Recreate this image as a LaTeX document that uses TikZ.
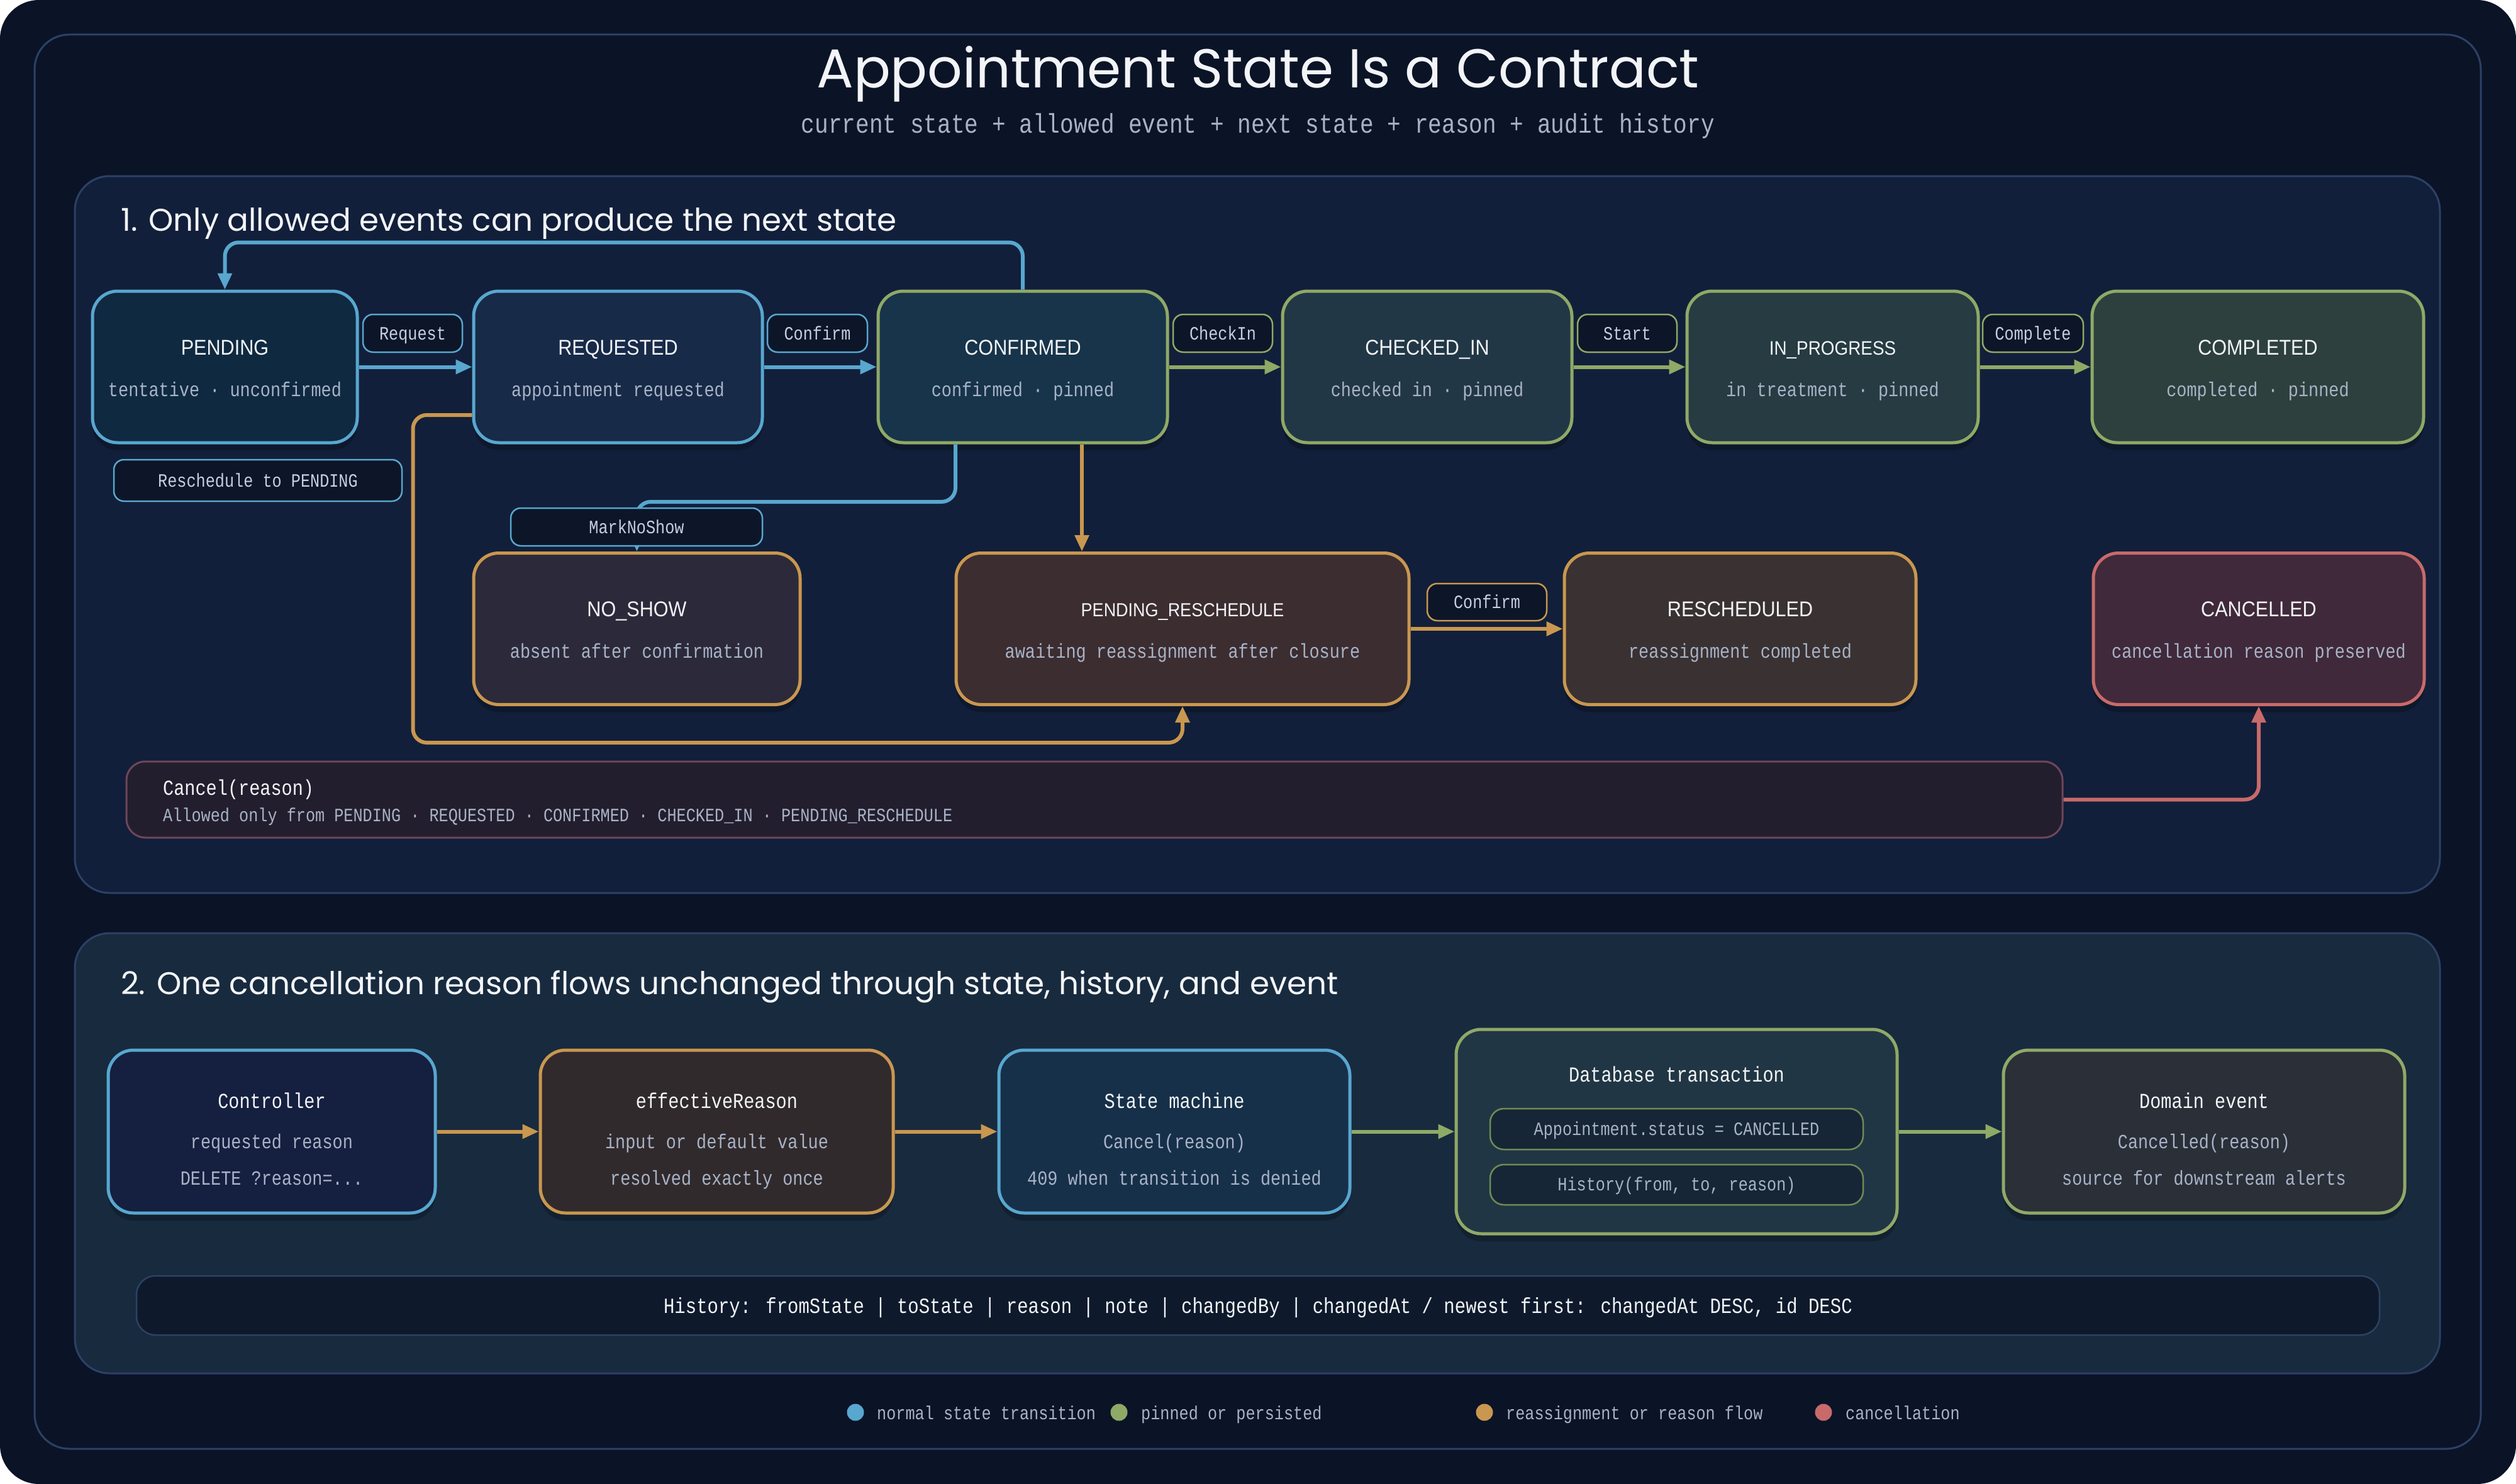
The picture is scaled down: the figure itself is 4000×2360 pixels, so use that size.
\documentclass[tikz,border=0pt]{standalone}
\usepackage{fontspec}
\usetikzlibrary{calc,arrows.meta,shadows}
\newfontfamily\monof[FakeStretch=0.84]{Liberation Mono}
\newfontfamily\ttlf[FakeStretch=0.9]{Liberation Sans}
\newfontfamily\handf{Poppins}
\newcommand\myfs[1]{\fontsize{#1}{#1}\selectfont}
\definecolor{bg}{HTML}{0B1327}
\definecolor{framec}{HTML}{2C4166}
\definecolor{panelA}{HTML}{121F3A}
\definecolor{panelB}{HTML}{182A3E}
\definecolor{cblue}{HTML}{58A7CF}
\definecolor{cgreen}{HTML}{8FA966}
\definecolor{corange}{HTML}{C9974F}
\definecolor{cred}{HTML}{C86A6A}
\definecolor{txtw}{HTML}{F2F4F7}
\definecolor{txts}{HTML}{A8B3C7}
\definecolor{lblfill}{HTML}{0C1628}
\definecolor{lbltxt}{HTML}{C5CFE0}
\definecolor{fPend}{HTML}{0F2940}
\definecolor{fReq}{HTML}{172A48}
\definecolor{fConf}{HTML}{17344A}
\definecolor{fChk}{HTML}{223746}
\definecolor{fInp}{HTML}{263B42}
\definecolor{fComp}{HTML}{2D403E}
\definecolor{fNos}{HTML}{2C2A3A}
\definecolor{fPres}{HTML}{3C2D31}
\definecolor{fResc}{HTML}{3A3132}
\definecolor{fCanc}{HTML}{40293A}
\definecolor{cbarf}{HTML}{231E2D}
\definecolor{cbarb}{HTML}{6E4759}
\definecolor{fCtrl}{HTML}{151F3F}
\definecolor{fEff}{HTML}{312A2C}
\definecolor{fSm}{HTML}{173049}
\definecolor{fDb}{HTML}{213644}
\definecolor{dbif}{HTML}{172636}
\definecolor{dbib}{HTML}{6F8C55}
\definecolor{fDom}{HTML}{2A2F38}
\definecolor{histf}{HTML}{0E1A2C}
\definecolor{histb}{HTML}{2B4263}
\tikzset{
  sbox/.style={draw, line width=5pt, rounded corners=40pt, minimum height=241pt, inner sep=0pt,
    drop shadow={shadow xshift=0pt, shadow yshift=-12pt, opacity=0.22, fill=black}},
  ttl/.style={font=\ttlf\myfs{34}, text=txtw, inner sep=0pt},
  ttlm/.style={font=\monof\myfs{34}, text=txtw, inner sep=0pt},
  subt/.style={font=\monof\myfs{32}, text=txts, inner sep=0pt},
  lbl/.style={draw, line width=2.5pt, rounded corners=16pt, fill=lblfill, text=lbltxt,
    font=\monof\myfs{30}, inner sep=0pt, minimum height=60pt, text height=20pt, text depth=0pt},
  arr/.style={line width=6pt, -{Triangle[length=26pt,width=22pt]}},
  legtxt/.style={font=\monof\myfs{30}, text=txts, inner sep=0pt, anchor=base west},
  dot/.style={circle, inner sep=0pt, minimum size=27pt},
}
\newcommand\mkstate[8]{%
  \node[sbox, fill=#5, draw=#6, minimum width=#4pt] (#1) at (#2,#3) {};
  \node[ttl, anchor=base] (#1-t) at ($(#1.center)+(0,-19.5)$) {#7};
  \node[subt, anchor=base] (#1-s) at ($(#1.center)+(0,46.5)$) {#8};
}
\newcommand\mkflow[8]{%
  \node[sbox, fill=#4, draw=#5, minimum width=#3pt, minimum height=259pt] (#1) at (#2,1799.5) {};
  \node[ttlm, anchor=base] (#1-t) at ($(#1.center)+(0,-37.5)$) {#6};
  \node[subt, anchor=base] (#1-a) at ($(#1.center)+(0,26.5)$) {#7};
  \node[subt, anchor=base] (#1-b) at ($(#1.center)+(0,84.5)$) {#8};
}
\begin{document}
\begin{tikzpicture}[x=1pt,y=-1pt]
\useasboundingbox (0,0) rectangle (4000,2360);
% background and frames
\fill[white] (0,0) rectangle (4000,2360);
\fill[bg, rounded corners=62pt] (0,0) rectangle (4000,2360);
\draw[framec, line width=3pt, rounded corners=55pt] (55,55) rectangle (3944,2304);
\draw[framec, line width=3pt, fill=panelA, rounded corners=55pt] (119,280) rectangle (3879,1420);
\draw[framec, line width=3pt, fill=panelB, rounded corners=55pt] (119,1484) rectangle (3879,2184);

% titles
\node[anchor=base, font=\handf\myfs{87}, text=txtw, inner sep=0pt] (title) at (2000,140) {Appointment State Is a Contract};
\node[anchor=base, font=\monof\myfs{43}, text=txts, inner sep=0pt] (subtitle) at (2000,212) {current state + allowed event + next state + reason + audit history};
\node[anchor=base west, font=\handf\myfs{50}, text=txtw, inner sep=0pt] (h1) at (192,367) {1. Only allowed events can produce the next state};
\node[anchor=base west, font=\handf\myfs{50}, text=txtw, inner sep=0pt] (h2) at (192,1581) {2. One cancellation reason flows unchanged through state, history, and event};

% section 1 states
\mkstate{pending}{357.5}{583.5}{421}{fPend}{cblue}{PENDING}{tentative · unconfirmed}
\mkstate{requested}{982.5}{583.5}{459}{fReq}{cblue}{REQUESTED}{appointment requested}
\mkstate{confirmed}{1626}{583.5}{460}{fConf}{cgreen}{CONFIRMED}{confirmed · pinned}
\mkstate{checkedin}{2269}{583.5}{460}{fChk}{cgreen}{CHECKED\_IN}{checked in · pinned}
\mkstate{inprogress}{2913.5}{583.5}{463}{fInp}{cgreen}{\myfs{31}IN\_PROGRESS}{in treatment · pinned}
\mkstate{completed}{3589.5}{583.5}{527}{fComp}{cgreen}{COMPLETED}{completed · pinned}
\mkstate{noshow}{1012.5}{1000}{519}{fNos}{corange}{NO\_SHOW}{absent after confirmation}
\mkstate{pres}{1880}{1000}{720}{fPres}{corange}{\myfs{30}PENDING\_RESCHEDULE}{awaiting reassignment after closure}
\mkstate{resched}{2766.5}{1000}{559}{fResc}{corange}{RESCHEDULED}{reassignment completed}
\mkstate{cancelled}{3591}{1000}{526}{fCanc}{cred}{CANCELLED}{cancellation reason preserved}

% cancel bar
\node[draw=cbarb, fill=cbarf, line width=3pt, rounded corners=30pt, minimum width=3078pt, minimum height=121pt, inner sep=0pt] (cancelbar) at (1740,1271.5) {};
\node[anchor=base west, font=\monof\myfs{34}, text=txtw, inner sep=0pt] (cb1) at (259,1264) {Cancel(reason)};
\node[anchor=base west, font=\monof\myfs{30}, text=txts, inner sep=0pt] (cb2) at (259,1306) {Allowed only from PENDING · REQUESTED · CONFIRMED · CHECKED\_IN · PENDING\_RESCHEDULE};

% section 1 connectors
\draw[arr, cblue] (pending.east) -- (requested.west);
\draw[arr, cblue] (requested.east) -- (confirmed.west);
\draw[arr, cgreen] (confirmed.east) -- (checkedin.west);
\draw[arr, cgreen] (checkedin.east) -- (inprogress.west);
\draw[arr, cgreen] (inprogress.east) -- (completed.west);
\draw[arr, cblue, rounded corners=22pt] (confirmed.north) -- ++(0,-75) -| (pending.north);
\coordinate (cA) at ($(confirmed.south)+(-107,0)$);
\draw[arr, cblue, rounded corners=22pt] (cA) |- ($(noshow.north)+(0,-79)$) -- (noshow.north);
\coordinate (cB) at ($(confirmed.south)+(94,0)$);
\draw[arr, corange] (cB) -- (cB |- pres.north);
\coordinate (cC) at ($(requested.west)+(0,76.5)$);
\draw[arr, corange, rounded corners=22pt] (cC) -- ++(-94,0) |- ($(pres.south)+(0,58)$) -- (pres.south);
\draw[arr, corange] (pres.east) -- (resched.west);
\draw[arr, cred, rounded corners=22pt] (cancelbar.east) -| (cancelled.south);

% edge labels
\node[lbl, draw=cblue, minimum width=158pt] (lReq) at (656,530) {Request};
\node[lbl, draw=cblue, minimum width=159pt] (lConf) at (1299.5,530) {Confirm};
\node[lbl, draw=cgreen, minimum width=158pt] (lChk) at (1944,530) {CheckIn};
\node[lbl, draw=cgreen, minimum width=158pt] (lStart) at (2587,530) {Start};
\node[lbl, draw=cgreen, minimum width=160pt] (lComp) at (3232,530) {Complete};
\node[lbl, draw=cblue, minimum width=458pt, minimum height=66pt] (lResch) at (410,764) {Reschedule to PENDING};
\node[lbl, draw=cblue, minimum width=400pt] (lNos) at (1012,838) {MarkNoShow};
\node[lbl, draw=corange, minimum width=190pt, minimum height=59pt] (lConf2) at (2364,957.5) {Confirm};

% section 2
\mkflow{ctrl}{432}{520}{fCtrl}{cblue}{Controller}{requested reason}{DELETE ?reason=...}
\mkflow{effr}{1139.5}{561}{fEff}{corange}{effectiveReason}{input or default value}{resolved exactly once}
\mkflow{sm}{1867}{558}{fSm}{cblue}{State machine}{Cancel(reason)}{409 when transition is denied}
\mkflow{dom}{3504}{638}{fDom}{cgreen}{Domain event}{Cancelled(reason)}{source for downstream alerts}
\node[sbox, fill=fDb, draw=cgreen, minimum width=701pt, minimum height=325pt] (db) at (2665.5,1799.5) {};
\node[ttlm, anchor=base] (db-t) at ($(db.center)+(0,-79.5)$) {Database transaction};
\node[draw=dbib, fill=dbif, line width=2.5pt, rounded corners=22pt, minimum width=593pt, minimum height=65pt, inner sep=0pt] (dbi1) at (2665.5,1795.5) {};
\node[subt, font=\monof\myfs{30}, anchor=base] (dbi1-t) at ($(dbi1.center)+(0,9.5)$) {Appointment.status = CANCELLED};
\node[draw=dbib, fill=dbif, line width=2.5pt, rounded corners=22pt, minimum width=593pt, minimum height=64pt, inner sep=0pt] (dbi2) at (2665.5,1884) {};
\node[subt, font=\monof\myfs{30}, anchor=base] (dbi2-t) at ($(dbi2.center)+(0,9.5)$) {History(from, to, reason)};

\draw[arr, corange] (ctrl.east) -- (effr.west);
\draw[arr, corange] (effr.east) -- (sm.west);
\draw[arr, cgreen] (sm.east) -- (db.west);
\draw[arr, cgreen] (db.east) -- (dom.west);

% history bar
\node[draw=histb, fill=histf, line width=2.5pt, rounded corners=30pt, minimum width=3566pt, minimum height=94pt, inner sep=0pt] (hist) at (2000,2076) {};
\node[anchor=base, font=\monof\myfs{34.5}, text=txtw, inner sep=0pt] (hist-t) at (2000,2088) {History: fromState | toState | reason | note | changedBy | changedAt / newest first: changedAt DESC, id DESC};

% legend
\node[dot, fill=cblue] (lg1) at (1360,2246) {};
\node[legtxt] (lg1-t) at (1394,2257) {normal state transition};
\node[dot, fill=cgreen] (lg2) at (1779,2246) {};
\node[legtxt] (lg2-t) at (1814,2257) {pinned or persisted};
\node[dot, fill=corange] (lg3) at (2360,2246) {};
\node[legtxt] (lg3-t) at (2394,2257) {reassignment or reason flow};
\node[dot, fill=cred] (lg4) at (2899,2246) {};
\node[legtxt] (lg4-t) at (2934,2257) {cancellation};
\end{tikzpicture}
\end{document}
